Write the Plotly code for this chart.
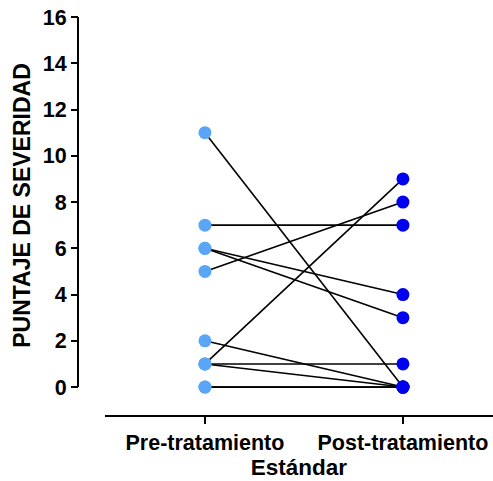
import plotly.graph_objects as go

categories = ["Pre-tratamiento", "Post-tratamiento"]
pre_values = [11, 7, 6, 6, 5, 2, 1, 1, 1, 0, 0]
post_values = [0, 7, 4, 3, 8, 0, 9, 1, 0, 0, 0]
y_ticks = [0, 2, 4, 6, 8, 10, 12, 14, 16]

FONT = "Liberation Sans, Arial, sans-serif"

fig = go.Figure()

for a, b in zip(pre_values, post_values):
    fig.add_trace(go.Scatter(
        x=[0, 1], y=[a, b], mode="lines",
        line=dict(color="black", width=1.6),
        showlegend=False, hoverinfo="skip", cliponaxis=False,
    ))

fig.add_trace(go.Scatter(
    x=[0] * len(pre_values), y=pre_values, mode="markers",
    marker=dict(color="#5AA5F5", size=13),
    showlegend=False, cliponaxis=False,
))
fig.add_trace(go.Scatter(
    x=[1] * len(post_values), y=post_values, mode="markers",
    marker=dict(color="#0000F0", size=13),
    showlegend=False, cliponaxis=False,
))

# y-axis line spanning 0..16 only (GraphPad style, detached from x axis)
fig.add_shape(type="line", xref="paper", yref="y",
              x0=0, x1=0, y0=min(y_ticks), y1=max(y_ticks),
              line=dict(color="black", width=2))

fig.update_layout(
    width=493, height=481,
    margin=dict(l=78, r=0, t=17, b=65),
    paper_bgcolor="white", plot_bgcolor="white",
    font=dict(family=FONT, color="black", size=21, weight="bold"),
    xaxis=dict(
        domain=[0.065, 1], anchor="free", position=0,
        range=[-0.505, 1.455],
        tickmode="array", tickvals=[0, 1], ticktext=categories,
        showline=True, linecolor="black", linewidth=2,
        ticks="outside", ticklen=7, tickwidth=2, tickcolor="black",
        showgrid=False, zeroline=False,
        tickfont=dict(family=FONT, size=21.5, weight="bold"),
        title=dict(text="Estándar", font=dict(family=FONT, size=22.5, weight="bold"), standoff=4),
    ),
    yaxis=dict(
        domain=[0.0551, 1], anchor="free", position=0,
        range=[-0.3, 16],
        tickmode="array", tickvals=y_ticks,
        showline=False,
        ticks="outside", ticklen=7, tickwidth=2, tickcolor="black",
        showgrid=False, zeroline=False,
        tickfont=dict(family=FONT, size=21.5, weight="bold"),
        title=dict(text="PUNTAJE DE SEVERIDAD", font=dict(family=FONT, size=23, weight="bold"), standoff=4),
    ),
)

fig.write_html("out.html", config={"displayModeBar": False},
               post_script="document.body.style.margin='0';document.body.style.overflow='hidden';")
